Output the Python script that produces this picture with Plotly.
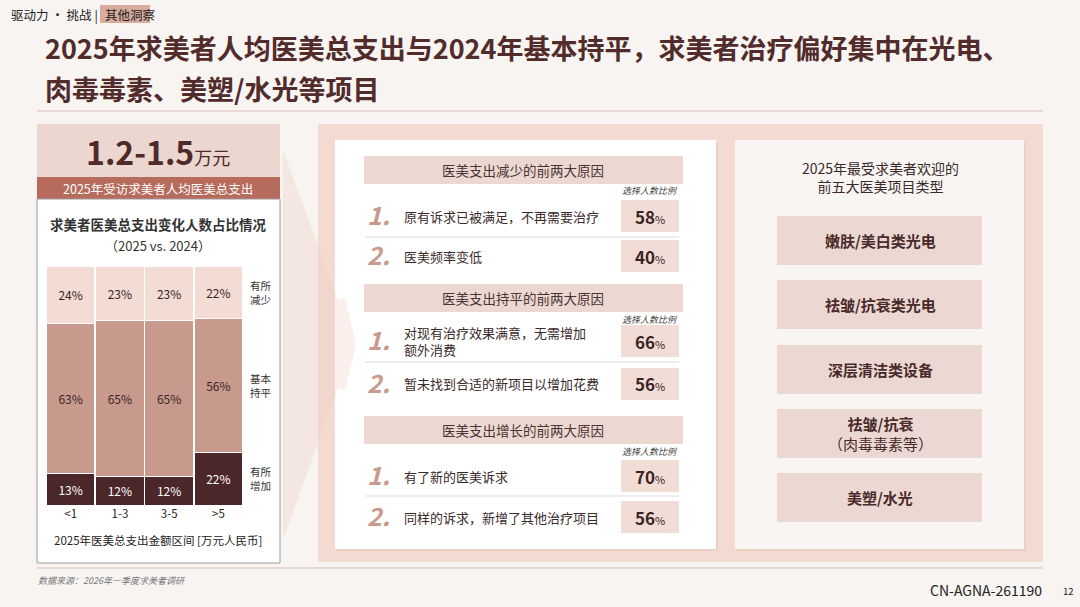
import plotly.graph_objects as go

W, H = 1080, 607
FONT = "Noto Sans CJK SC"
DARK = "#4a2a2a"
BG = "#f7f4f2"

# ---------------- data ----------------
categories = ["<1", "1-3", "3-5", ">5"]
increase = [13, 12, 12, 22]
flat = [63, 65, 65, 56]
decrease = [24, 23, 23, 22]
seg_names = ["有所<br>增加", "基本<br>持平", "有所<br>减少"]

breadcrumb = ["驱动力 · 挑战", "其他洞察"]
title_lines = ["2025年求美者人均医美总支出与2024年基本持平，求美者治疗偏好集中在光电、",
               "肉毒毒素、美塑/水光等项目"]
headline_value = "1.2-1.5"
headline_unit = "万元"
headline_label = "2025年受访求美者人均医美总支出"
chart_title = "求美者医美总支出变化人数占比情况"
chart_subtitle = "（2025 vs. 2024）"
x_title = "2025年医美总支出金额区间 [万元人民币]"

section_titles = ["医美支出减少的前两大原因", "医美支出持平的前两大原因", "医美支出增长的前两大原因"]
section_reasons = [
    ["原有诉求已被满足，不再需要治疗", "医美频率变低"],
    ["对现有治疗效果满意，无需增加<br>额外消费", "暂未找到合适的新项目以增加花费"],
    ["有了新的医美诉求", "同样的诉求，新增了其他治疗项目"],
]
section_pcts = [[58, 40], [66, 56], [70, 56]]
pct_label = "选择人数比例"

top5_title = "2025年最受求美者欢迎的<br>前五大医美项目类型"
top5 = ["<b>嫩肤/美白类光电</b>", "<b>祛皱/抗衰类光电</b>", "<b>深层清洁类设备</b>",
        "<b>祛皱/抗衰</b><br>（肉毒毒素等）", "<b>美塑/水光</b>"]

source = "数据来源：2026年一季度求美者调研"
doc_id = "CN-AGNA-261190"
page_no = "12"

# ---------------- helpers ----------------
def X(px):
    return px / W

def Y(py):
    return 1 - py / H

shapes = []
annos = []

def rect(x0, y0, x1, y1, fill, line=None, lw=0, opacity=1.0):
    shapes.append(dict(type="rect", xref="paper", yref="paper",
                       x0=X(x0), x1=X(x1), y0=Y(y1), y1=Y(y0),
                       fillcolor=fill, opacity=opacity,
                       line=dict(color=line or fill, width=lw), layer="below"))

def hline(x0, x1, y, color, w=1):
    shapes.append(dict(type="line", xref="paper", yref="paper",
                       x0=X(x0), x1=X(x1), y0=Y(y), y1=Y(y),
                       line=dict(color=color, width=w), layer="below"))

def text(x, y, t, size=13, color=DARK, xanchor="center", yanchor="middle", align="center", family=FONT):
    annos.append(dict(xref="paper", yref="paper", x=X(x), y=Y(y), text=t,
                      showarrow=False, xanchor=xanchor, yanchor=yanchor, align=align,
                      borderpad=0,
                      font=dict(family=family, size=size, color=color)))

# ---------------- header ----------------
rect(100, 5, 150, 23, "#d8ab9d")
text(10, 14, breadcrumb[0] + " | ", size=12.5, color="#222", xanchor="left")
text(104, 14, breadcrumb[1], size=12.5, color="#222", xanchor="left")
text(44, 68, "<b>" + title_lines[0] + "</b>", size=27, color="#522b2b",
     xanchor="left", yanchor="bottom", align="left")
text(44, 68, "<b>" + title_lines[1] + "</b>", size=27, color="#522b2b",
     xanchor="left", yanchor="top", align="left")
hline(37, 1043, 111, "#dcbcb1", 1.2)

# ---------------- left panel ----------------
rect(37, 124, 280, 177, "#ebd7cf")
rect(37, 177, 280, 199, "#b76b5c")
rect(37, 199, 280, 563, "#ffffff", line="#9a9a9a", lw=1)
text(158, 151, "<b>" + headline_value + "</b><span style='font-size:18px'>" + headline_unit + "</span>",
     size=32, color="#4e2a2a")
text(158, 188, headline_label, size=12.5, color="#ffffff")
text(158, 235, "<b>" + chart_title + "</b>", size=13.5, color="#333", yanchor="bottom")
text(158, 235, chart_subtitle, size=13, color="#333", yanchor="top")
text(158, 540, x_title, size=11.5, color="#222")

# ---------------- middle frame ----------------
rect(318, 124, 1043, 562, "#f3dbd2")
rect(337, 142, 718, 551, "#ecd0c6")   # shadow
rect(335, 140, 716, 549, "#ffffff")
rect(737, 142, 1026, 551, "#ecd0c6")  # shadow
rect(735, 140, 1024, 549, "#f8f5f3")

# chevron arrow
shapes.append(dict(type="path", xref="paper", yref="paper",
                   path="M {} {} L {} {} L {} {} L {} {} L {} {} L {} {} L {} {} Z".format(
                       X(283), Y(150), X(338), Y(300), X(345), Y(298), X(356), Y(345),
                       X(345), Y(390), X(338), Y(388), X(283), Y(540)),
                   fillcolor="#eec9bd", opacity=0.3, line=dict(width=0), layer="above"))

sec_tops = [156, 284, 416]
row_centers = [[216, 256], [341, 384], [476, 517]]
div_ys = [237, 362, 496]
for s in range(3):
    top = sec_tops[s]
    rect(364, top, 683, top + 28, "#ecd8d1")
    text(523, top + 14, section_titles[s], size=13.5, color="#4a3434")
    text(679, top + 35, "<i>" + pct_label + "</i>", size=9, color="#444", xanchor="right")
    for r in range(2):
        cy = row_centers[s][r]
        rect(621, cy - 16, 679, cy + 16, "#f2ddd6")
        text(650, cy, "<b>{}</b><span style='font-size:11px'>%</span>".format(section_pcts[s][r]),
             size=17, color="#3a2424")
        text(378, cy - 2, "<b><i>{}.</i></b>".format(r + 1), size=25, color="#c9998d")
        text(403, cy, section_reasons[s][r], size=13, color="#3a2a2a", xanchor="left", align="left")
    hline(365, 679, div_ys[s], "#dedada", 1)

# ---------------- right card ----------------
text(880, 177, top5_title, size=14, color="#3a2a2a")
box_tops = [216, 280, 345, 409, 473]
for i, t in enumerate(top5):
    rect(777, box_tops[i], 982, box_tops[i] + 49, "#ebd8d2")
    text(880, box_tops[i] + 24.5, t, size=15, color="#4a2a2a")

# ---------------- footer ----------------
hline(37, 1043, 568, "#dcbcb1", 1.2)
text(37, 580, "<i>" + source + "</i>", size=9, color="#777", xanchor="left")
text(1043, 590, doc_id, size=14, color="#222", xanchor="right")
text(1068, 591, page_no, size=9.5, color="#222")

# ---------------- bar chart ----------------
fig = go.Figure()
series = [(increase, "#4b2729", "#ffffff"), (flat, "#c89a8e", "#3a2424"), (decrease, "#f2dcd3", "#3a2424")]
for (vals, col, tcol), nm in zip(series, seg_names):
    fig.add_trace(go.Bar(x=categories, y=vals, name=nm.replace("<br>", ""),
                         marker=dict(color=col, line=dict(color="#ffffff", width=1)),
                         text=[f"{v}%" for v in vals], textposition="inside",
                         insidetextanchor="middle", textangle=0,
                         textfont=dict(family=FONT, size=12, color=tcol),
                         hoverinfo="skip", showlegend=False))

last = len(categories) - 1
mids = [increase[last] / 2, increase[last] + flat[last] / 2, increase[last] + flat[last] + decrease[last] / 2]
for nm, m in zip(seg_names, mids):
    annos.append(dict(xref="paper", yref="y", x=X(248), y=m, text=nm, showarrow=False,
                      xanchor="left", yanchor="middle", align="left",
                      font=dict(family=FONT, size=10.5, color="#333")))

fig.update_layout(
    width=W, height=H, margin=dict(l=0, r=0, t=0, b=0),
    paper_bgcolor=BG, plot_bgcolor="rgba(0,0,0,0)",
    barmode="stack", bargap=0.02,
    xaxis=dict(domain=[X(46), X(243)], showgrid=False, zeroline=False, showline=False,
               ticks="", tickfont=dict(family=FONT, size=11.5, color="#222"), fixedrange=True),
    yaxis=dict(domain=[Y(505), Y(266)], range=[0, 100], showgrid=False, zeroline=False,
               showticklabels=False, fixedrange=True),
    shapes=shapes, annotations=annos, font=dict(family=FONT),
)

fig.write_html("out.html", config={"displayModeBar": False},
               post_script="document.body.style.margin='0';document.body.style.overflow='hidden';")
